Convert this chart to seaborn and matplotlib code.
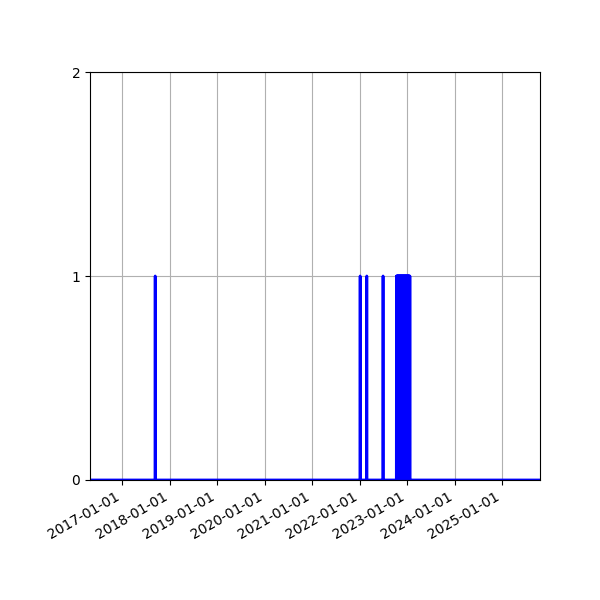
import numpy as np
import pandas as pd
import matplotlib
matplotlib.use("Agg")
import matplotlib.pyplot as plt
import matplotlib.dates as mdates
import seaborn as sns

# Data: daily indicator series (0 baseline, 1 on event days)
range_start = "2016-04-30"
range_end = "2025-10-18"
spike_dates = ["2017-09-13", "2022-01-05", "2022-02-25", "2022-06-30"]
cluster_dates = [
    "2022-10-11", "2022-10-14", "2022-10-17", "2022-10-20", "2022-10-23",
    "2022-10-26", "2022-10-29", "2022-11-01", "2022-11-04", "2022-11-07",
    "2022-11-10", "2022-11-13", "2022-11-16", "2022-11-19", "2022-11-22",
    "2022-11-25", "2022-11-28", "2022-12-01", "2022-12-04", "2022-12-07",
    "2022-12-10", "2022-12-13", "2022-12-16", "2022-12-19", "2022-12-22",
    "2022-12-25", "2022-12-28", "2022-12-31", "2023-01-03", "2023-01-06",
    "2023-01-09", "2023-01-12", "2023-01-15", "2023-01-18", "2023-01-22",
]
y_ticks = [0, 1, 2]

dates = pd.date_range(range_start, range_end, freq="D")
values = pd.Series(0, index=dates)
values.loc[pd.to_datetime(spike_dates)] = 1
values.loc[pd.to_datetime(cluster_dates)] = 1
df = pd.DataFrame({"date": dates, "value": values.values})

fig, ax = plt.subplots(figsize=(6, 6), dpi=100)
sns.lineplot(data=df, x="date", y="value", color="blue", linewidth=2, ax=ax)

ax.set_xlim(dates[0], dates[-1])
ax.set_ylim(0, 2)
ax.set_yticks(y_ticks)
ax.xaxis.set_major_locator(mdates.YearLocator())
ax.xaxis.set_major_formatter(mdates.DateFormatter("%Y-%m-%d"))
ax.grid(True)
ax.set_xlabel("")
ax.set_ylabel("")
fig.autofmt_xdate()
fig.subplots_adjust(left=0.15, right=0.9, top=0.88, bottom=0.2)
fig.savefig("out.png", dpi=100)
